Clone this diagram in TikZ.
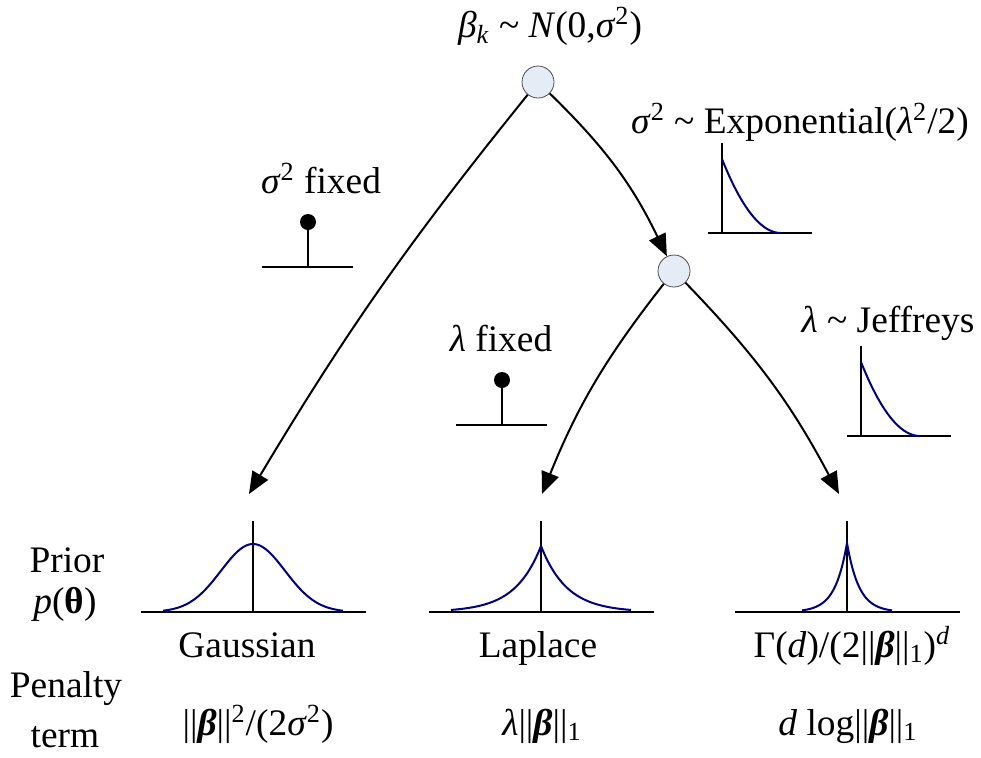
\documentclass[tikz,border=0pt]{standalone}
\usepackage{fontspec}
\setmainfont{Liberation Serif}
\usetikzlibrary{arrows.meta}
\definecolor{hyperfill}{RGB}{230,236,246}
\definecolor{densblue}{RGB}{0,0,128}
\newcommand{\bbeta}{\textbf{\textit{β}}}
\newcommand{\sq}{\textsuperscript{2}}

\begin{document}
\begin{tikzpicture}[x=0.5pt,y=-0.5pt,font=\fontsize{18.7}{22}\selectfont,>={Triangle[length=11pt,width=9pt]},
 hyper/.style={circle,draw=black!70,fill=hyperfill,minimum size=16pt,inner sep=0pt},
 lbl/.style={inner sep=0pt,anchor=base},
 branch/.style={->,line width=1pt},
 axis/.style={line width=1pt},
 stem/.style={line width=0.7pt},
 dens/.style={line width=1pt,densblue}]
\useasboundingbox (0,0) rectangle (981,757);
\node[hyper] (top) at (538,82) {};
\node[hyper] (mid) at (674,271) {};
\coordinate (gausstip) at (249,494);
\coordinate (laplacetip) at (542,494);
\coordinate (jeffreystip) at (839,494);
\draw[branch] (top) to[bend right=4] (gausstip);
\draw[branch] (top) to[bend left=10] (mid);
\draw[branch] (mid) to[bend right=8] (laplacetip);
\draw[branch] (mid) to[bend left=8] (jeffreystip);
\node[lbl] (toplbl) at (550,37) {\textit{β}\textsubscript{\textit{k}} \textasciitilde{} \textit{N}(0,\textit{σ}\sq)};
\node[lbl] (explbl) at (800,133) {\textit{σ}\sq{} \textasciitilde{} Exponential(\textit{λ}\sq/2)};
\node[lbl] (sigfix) at (321,193) {\textit{σ}\sq{} fixed};
\node[lbl] (lamfix) at (501,351) {\textit{λ} fixed};
\node[lbl] (jefflbl) at (888,332) {\textit{λ} \textasciitilde{} Jeffreys};
\foreach \ax/\ay in {722/233,861/436} {
  \draw[axis] (\ax,\ay-90) -- (\ax,\ay);
  \draw[axis] (\ax-14,\ay) -- (\ax+90,\ay);
  \draw[dens] plot[domain=0:59,samples=40] ({\ax+\x},{\ay-74*(1-\x/59)^2});
}
\foreach \px/\py in {308/267,502/425} {
  \draw[axis] (\px-46,\py) -- (\px+45,\py);
  \draw[axis] (\px,\py) -- (\px,\py-45);
  \fill (\px,\py-45) circle (8);
}
\foreach \cx in {253,541,847} {
  \draw[axis] (\cx-112,612) -- (\cx+113,612);
  \draw[stem] (\cx,521) -- (\cx,612);
}
\draw[dens] plot[domain=-90:90,samples=81] ({253+\x},{612-68*exp(-(\x)^2/2048)});
\draw[dens] plot[domain=-90:90,samples=121] ({541+\x},{612-66*exp(-abs(\x)/26)});
\draw[dens] plot[domain=-45:45,samples=91] ({847+\x},{612-69*exp(-abs(\x)/12)});
\node[lbl] (prior) at (67,572) {Prior};
\node[lbl] (ptheta) at (65,613) {\textit{p}(\textbf{θ})};
\node[lbl] (penalty) at (66,697) {Penalty};
\node[lbl] (term) at (65,747) {term};
\node[lbl] (gauss) at (247,657) {Gaussian};
\node[lbl] (laplace) at (538,657) {Laplace};
\node[lbl] (gammalbl) at (852,657) {Γ(\textit{d})/(2||\bbeta||\textsubscript{1})\textsuperscript{\textit{d}}};
\node[lbl] (pengauss) at (258,735) {||\bbeta||\sq/(2\textit{σ}\sq)};
\node[lbl] (penlaplace) at (542,735) {\textit{λ}||\bbeta||\textsubscript{1}};
\node[lbl] (penjeff) at (848,735) {\textit{d} log||\bbeta||\textsubscript{1}};
\end{tikzpicture}
\end{document}
